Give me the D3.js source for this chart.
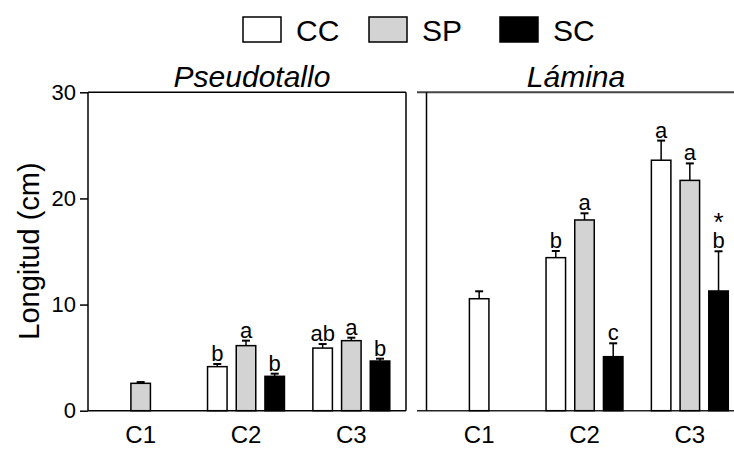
<!DOCTYPE html>
<html>
<head>
<meta charset="utf-8">
<script src="https://cdn.jsdelivr.net/npm/d3@7"></script>
<style>
  html, body { margin: 0; padding: 0; background: #fff; }
  svg { display: block; font-family: "Liberation Sans", Arial, sans-serif; }
</style>
</head>
<body>
<svg id="chart" width="734" height="450"></svg>
<script>
// Categories and treatments
const categories = ["C1", "C2", "C3"];
const series = ["CC", "SP", "SC"];
const seriesFill = { CC: "#ffffff", SP: "#d3d3d3", SC: "#000000" };
const yTicks = [0, 10, 20, 30];

// Pseudotallo: mean length (cm), error (+), letters
const pseudoCC = [null, 4.15, 5.9];
const pseudoSP = [2.58, 6.13, 6.6];
const pseudoSC = [null, 3.24, 4.68];
const pseudoErrCC = [null, 0.25, 0.38];
const pseudoErrSP = [0.12, 0.47, 0.28];
const pseudoErrSC = [null, 0.25, 0.22];
const pseudoLetCC = [null, "b", "ab"];
const pseudoLetSP = [null, "a", "a"];
const pseudoLetSC = [null, "b", "b"];

// Lámina: mean length (cm), error (+), letters
const laminaCC = [10.55, 14.42, 23.6];
const laminaSP = [null, 17.97, 21.7];
const laminaSC = [null, 5.09, 11.28];
const laminaErrCC = [0.7, 0.63, 1.85];
const laminaErrSP = [null, 0.63, 1.6];
const laminaErrSC = [null, 1.26, 3.74];
const laminaLetCC = [null, "b", "a"];
const laminaLetSP = [null, "a", "a"];
const laminaLetSC = [null, "c", "b*"];

function buildRows(vals, errs, lets) {
  const rows = [];
  categories.forEach((c, i) => {
    series.forEach(s => {
      if (vals[s][i] != null) {
        rows.push({ cat: c, s, v: vals[s][i], e: errs[s][i], lab: lets[s][i] });
      }
    });
  });
  return rows;
}

const panels = [
  { title: "Pseudotallo", x0: 88, titleX: 252, axis: true,
    rows: buildRows({ CC: pseudoCC, SP: pseudoSP, SC: pseudoSC },
                    { CC: pseudoErrCC, SP: pseudoErrSP, SC: pseudoErrSC },
                    { CC: pseudoLetCC, SP: pseudoLetSP, SC: pseudoLetSC }) },
  { title: "Lámina", x0: 426.5, titleX: 576, axis: false,
    rows: buildRows({ CC: laminaCC, SP: laminaSP, SC: laminaSC },
                    { CC: laminaErrCC, SP: laminaErrSP, SC: laminaErrSC },
                    { CC: laminaLetCC, SP: laminaLetSP, SC: laminaLetSC }) }
];

const svg = d3.select("#chart");
const yTop = 92.3, yBot = 410.7, panelW = 318;
const y = d3.scaleLinear().domain([0, 30]).range([yBot, yTop]);
const x = d3.scaleBand().domain(categories).range([0, 316]);
const xs = d3.scaleBand().domain(series).range([-43.05, 43.05])
  .paddingInner(0.32).paddingOuter(0.16);
const bw = xs.bandwidth();

panels.forEach(p => {
  const g = svg.append("g").attr("transform", `translate(${p.x0},0)`);

  // frame
  if (p.axis) {
    g.append("line").attr("x1", 0).attr("x2", panelW).attr("y1", yTop).attr("y2", yTop)
      .attr("stroke", "#000").attr("stroke-width", 1.5);
    g.append("line").attr("x1", panelW).attr("x2", panelW).attr("y1", yTop).attr("y2", yBot)
      .attr("stroke", "#000").attr("stroke-width", 1.5);
    g.append("line").attr("x1", 0).attr("x2", panelW).attr("y1", yBot).attr("y2", yBot)
      .attr("stroke", "#000").attr("stroke-width", 1.5);
    const ax = g.append("g").call(d3.axisLeft(y).tickValues(yTicks).tickSize(8).tickPadding(4));
    ax.select(".domain").attr("stroke", "#000").attr("stroke-width", 1.5)
      .attr("d", `M0,${yTop}V${yBot}`);
    ax.selectAll(".tick line").attr("stroke-width", 1.5);
    ax.selectAll(".tick text").attr("font-size", 22).attr("fill", "#000")
      .attr("font-family", "Liberation Sans, Arial, sans-serif");
  } else {
    g.append("line").attr("x1", -9.5).attr("x2", 734 - p.x0).attr("y1", yTop).attr("y2", yTop)
      .attr("stroke", "#444").attr("stroke-width", 2);
    g.append("line").attr("x1", -9.5).attr("x2", 734 - p.x0).attr("y1", yBot).attr("y2", yBot)
      .attr("stroke", "#222").attr("stroke-width", 1.5);
    g.append("line").attr("x1", 0).attr("x2", 0).attr("y1", yTop).attr("y2", yBot)
      .attr("stroke", "#000").attr("stroke-width", 1.5);
  }

  // title
  svg.append("text").attr("x", p.titleX).attr("y", 87).attr("text-anchor", "middle")
    .attr("font-size", 30).attr("font-style", "italic").text(p.title);

  // category labels
  categories.forEach(c => {
    g.append("text").attr("x", x(c) + x.bandwidth() / 2).attr("y", 443)
      .attr("text-anchor", "middle").attr("font-size", 24).text(c);
  });

  const counts = d3.rollup(p.rows, v => v.length, d => d.cat);
  const cx = d => x(d.cat) + x.bandwidth() / 2 +
    (counts.get(d.cat) === 1 ? 0 : xs(d.s) + bw / 2);

  // error bars (upper only)
  const eb = g.selectAll(".eb").data(p.rows).enter().append("g");
  eb.append("line").attr("x1", cx).attr("x2", cx)
    .attr("y1", d => y(d.v)).attr("y2", d => y(d.v + d.e))
    .attr("stroke", "#000").attr("stroke-width", 1.5);
  eb.append("line").attr("x1", d => cx(d) - 4).attr("x2", d => cx(d) + 4)
    .attr("y1", d => y(d.v + d.e)).attr("y2", d => y(d.v + d.e))
    .attr("stroke", "#000").attr("stroke-width", 2);

  // bars
  g.selectAll(".bar").data(p.rows).enter().append("rect")
    .attr("x", d => cx(d) - bw / 2).attr("width", bw)
    .attr("y", d => y(d.v)).attr("height", d => y(0) - y(d.v))
    .attr("fill", d => seriesFill[d.s]).attr("stroke", "#000").attr("stroke-width", 1.5);

  // significance letters
  p.rows.filter(d => d.lab).forEach(d => {
    const letter = d.lab.replace("*", "");
    const ty = y(d.v + d.e) - 3;
    g.append("text").attr("x", cx(d)).attr("y", ty).attr("text-anchor", "middle")
      .attr("font-size", 22).text(letter);
    if (d.lab.includes("*")) {
      g.append("text").attr("x", cx(d)).attr("y", ty - 17).attr("text-anchor", "middle")
        .attr("font-size", 26).text("*");
    }
  });
});

// y axis title
svg.append("text").attr("transform", "translate(39,251) rotate(-90)")
  .attr("text-anchor", "middle").attr("font-size", 29).text("Longitud (cm)");

// legend
const legX = [243, 369, 500];
series.forEach((s, i) => {
  svg.append("rect").attr("x", legX[i]).attr("y", 17).attr("width", 38).attr("height", 25)
    .attr("fill", seriesFill[s]).attr("stroke", "#000").attr("stroke-width", 1.5);
  svg.append("text").attr("x", legX[i] + 53).attr("y", 41).attr("font-size", 30).text(s);
});
</script>
</body>
</html>
